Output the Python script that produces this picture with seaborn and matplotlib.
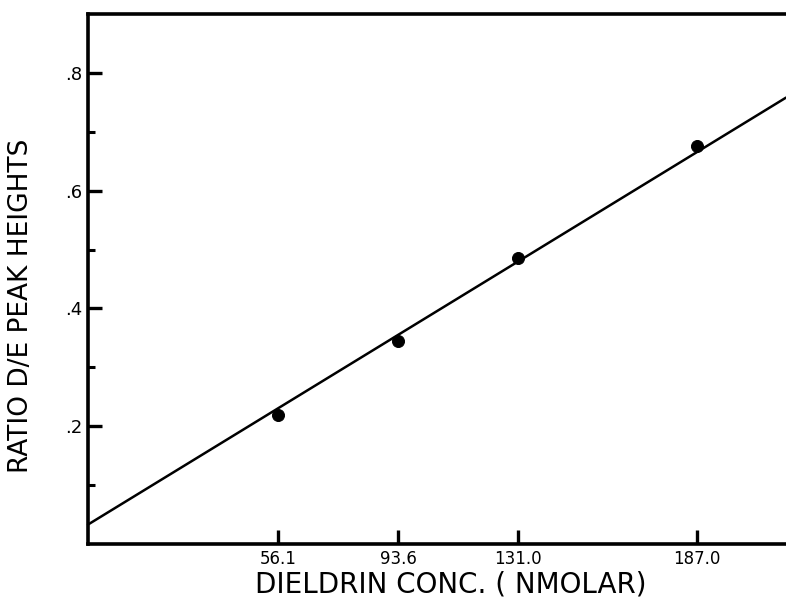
import matplotlib
matplotlib.use("Agg")
import matplotlib.pyplot as plt
import seaborn as sns
import pandas as pd

# Data
conc = [56.1, 93.6, 131.0, 187.0]
ratio = [0.219, 0.345, 0.486, 0.675]
tick_labels = ["56.1", "93.6", "131.0", "187.0"]
fit_x = [-3.5, 215.0]
fit_y = [0.033, 0.758]
ytick_major = [0.2, 0.4, 0.6, 0.8]
ytick_major_labels = [".2", ".4", ".6", ".8"]
ytick_minor = [0.1, 0.3, 0.5, 0.7]

sns.set_theme(style="ticks")
plt.rcParams['font.family'] = ['DejaVu Sans']
plt.rcParams['text.color'] = 'black'
plt.rcParams['axes.labelcolor'] = 'black'
plt.rcParams['xtick.color'] = 'black'
plt.rcParams['ytick.color'] = 'black'

fig = plt.figure(figsize=(7.86, 6.10), dpi=100)
ax = fig.add_axes([88/786, 1 - 544/610, 1 - 88/786, (544 - 14)/610])

pts = pd.DataFrame({"conc": conc, "ratio": ratio})
fit = pd.DataFrame({"x": fit_x, "y": fit_y})

sns.lineplot(data=fit, x="x", y="y", ax=ax, color="black", linewidth=1.8, clip_on=False)
sns.scatterplot(data=pts, x="conc", y="ratio", ax=ax, color="black", s=75, edgecolor="black", zorder=5)

ax.set_xlim(-3.5, 215)
ax.set_ylim(0, 0.9)

ax.set_xticks(conc)
ax.set_xticklabels(tick_labels, fontsize=12)
ax.set_yticks(ytick_major)
ax.set_yticklabels(ytick_major_labels, fontsize=13)
ax.set_yticks(ytick_minor, minor=True)
ax.tick_params(axis="both", which="major", direction="in", length=10, width=2.4, pad=4)
ax.tick_params(axis="y", which="minor", direction="in", length=5, width=2.2)

for s in ["left", "bottom", "top"]:
    ax.spines[s].set_linewidth(2.6)
    ax.spines[s].set_color("black")
ax.spines["right"].set_visible(False)

ax.set_xlabel("DIELDRIN CONC. ( NMOLAR)", fontsize=20)
ax.set_ylabel("RATIO D/E PEAK HEIGHTS", fontsize=19)
ax.xaxis.set_label_coords(0.52, -0.05)
ax.yaxis.set_label_coords(-0.078, 0.45)

fig.savefig("out.png", dpi=100)
